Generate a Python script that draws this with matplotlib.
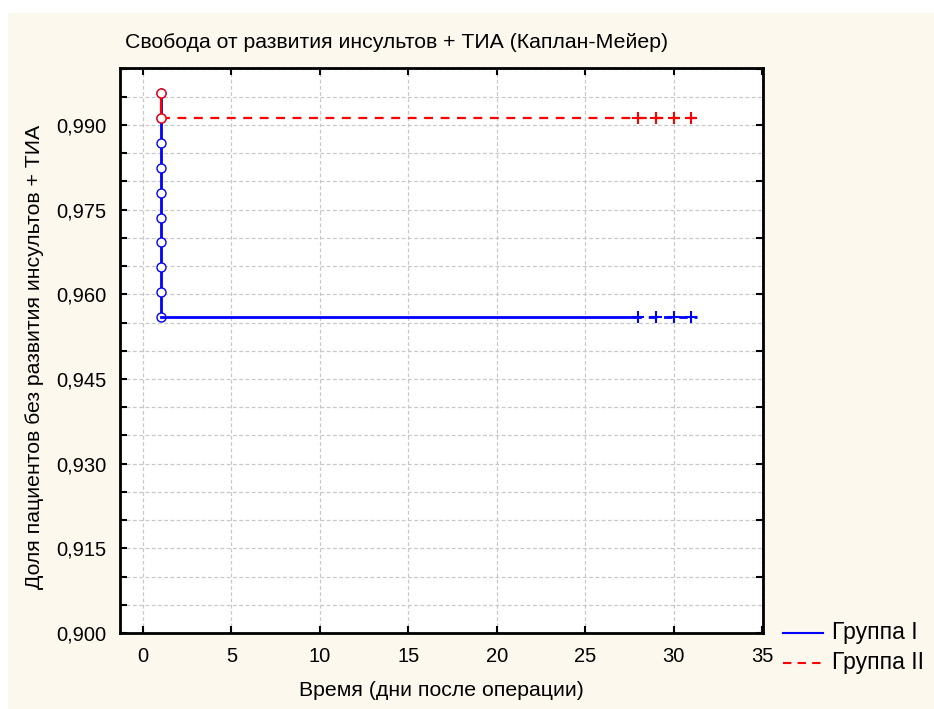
import matplotlib
matplotlib.use("Agg")
import matplotlib.pyplot as plt
from matplotlib.patches import Rectangle
from matplotlib.ticker import MultipleLocator, FuncFormatter

# Kaplan-Meier estimates (all events at day 1)
event_time = 1
group1_surv = [0.9956, 0.9912, 0.9868, 0.9824, 0.9780, 0.9736, 0.9692, 0.9648, 0.9604, 0.9560]
group2_surv = [0.9956, 0.9912]
censor_times = [28, 29, 30, 31]
last_time = 31.3

title = "Свобода от развития инсультов + ТИА (Каплан-Мейер)"
xlabel = "Время (дни после операции)"
ylabel = "Доля пациентов без развития инсультов + ТИА"
labels = ["Группа I", "Группа II"]

plt.rcParams['font.family'] = ['Liberation Sans', 'DejaVu Sans']

fig = plt.figure(figsize=(9.34, 7.09), dpi=100, facecolor="white")
fig.patches.append(Rectangle((8 / 934, 0.0), 1.0, 1 - 13 / 709, transform=fig.transFigure,
                             facecolor="#fdf8ed", edgecolor="none", zorder=-10))

ax = fig.add_axes([120 / 934, 1 - 633 / 709, (763 - 120) / 934, (633 - 68) / 709])
ax.set_facecolor("white")

blue = "#0000ff"
red = "#ff0000"

# group I
ax.plot([event_time] * len(group1_surv), group1_surv, color=blue, lw=2,
        marker="o", ms=6.5, mfc="white", mec=blue, mew=1, zorder=3)
ax.plot([event_time, censor_times[0] - 0.3], [group1_surv[-1]] * 2, color=blue, lw=2, zorder=3)
ax.plot([censor_times[0] - 0.3, last_time], [group1_surv[-1]] * 2, color=blue, lw=2,
        dashes=(3, 2.5), zorder=3)
ax.plot(censor_times, [group1_surv[-1]] * len(censor_times), ls="none", marker="+",
        ms=9, mew=1.5, color=blue, zorder=4)

# group II
ax.plot([event_time] * len(group2_surv), group2_surv, color=red, lw=1.6, zorder=5)
ax.plot([event_time, last_time], [group2_surv[-1]] * 2, color=red, lw=1.6,
        dashes=(4, 3.4), zorder=5)
ax.plot([event_time] * len(group2_surv), group2_surv, ls="none",
        marker="o", ms=6.5, mfc="white", mec=red, mew=1, zorder=6)
ax.plot(censor_times, [group2_surv[-1]] * len(censor_times), ls="none", marker="+",
        ms=9, mew=1.5, color=red, zorder=6)

ax.set_xlim(-1.3, 35.05)
ax.set_ylim(0.9, 1.0001)
ax.xaxis.set_major_locator(MultipleLocator(5))
ax.yaxis.set_major_locator(MultipleLocator(0.015))
ax.yaxis.set_minor_locator(MultipleLocator(0.005))
ax.yaxis.set_major_formatter(FuncFormatter(lambda v, p: f"{v:.3f}".replace(".", ",")))

ax.grid(True, which="both", color="#c8c8c8", lw=0.9, dashes=(3, 2))
ax.set_axisbelow(True)
ax.tick_params(axis="both", which="both", direction="in", labelsize=14.5,
               top=True, right=False, length=5, width=1.5, pad=10)
ax.tick_params(axis="y", which="minor", length=5)

for s in ax.spines.values():
    s.set_linewidth(2)

ax2 = ax.twinx()
ax2.set_ylim(ax.get_ylim())
ax2.yaxis.set_major_locator(MultipleLocator(0.01))
ax2.tick_params(axis="y", direction="in", length=5, width=1.5, labelright=False)

fig.text(125 / 934, 1 - 43 / 709, title, ha="left", va="center", fontsize=15.3)
fig.text(441 / 934, 1 - 691 / 709, xlabel, ha="center", va="center", fontsize=15.3)
fig.text(35 / 934, 1 - 357 / 709, ylabel, ha="center", va="center", rotation=90, fontsize=15.3)

# legend drawn outside the axes
leg_rows = [(633, blue, "-"), (663, red, "--")]
for (yp, c, ls), lab in zip(leg_rows, labels):
    yf = 1 - yp / 709
    fig.add_artist(plt.Line2D([783 / 934, 823 / 934], [yf, yf], color=c, lw=1.5,
                              ls=ls, dashes=(4, 3) if ls == "--" else (None, None),
                              transform=fig.transFigure))
    fig.text(832 / 934, yf, lab, ha="left", va="center", fontsize=16.5)

fig.savefig("out.png", dpi=100, facecolor=fig.get_facecolor())
